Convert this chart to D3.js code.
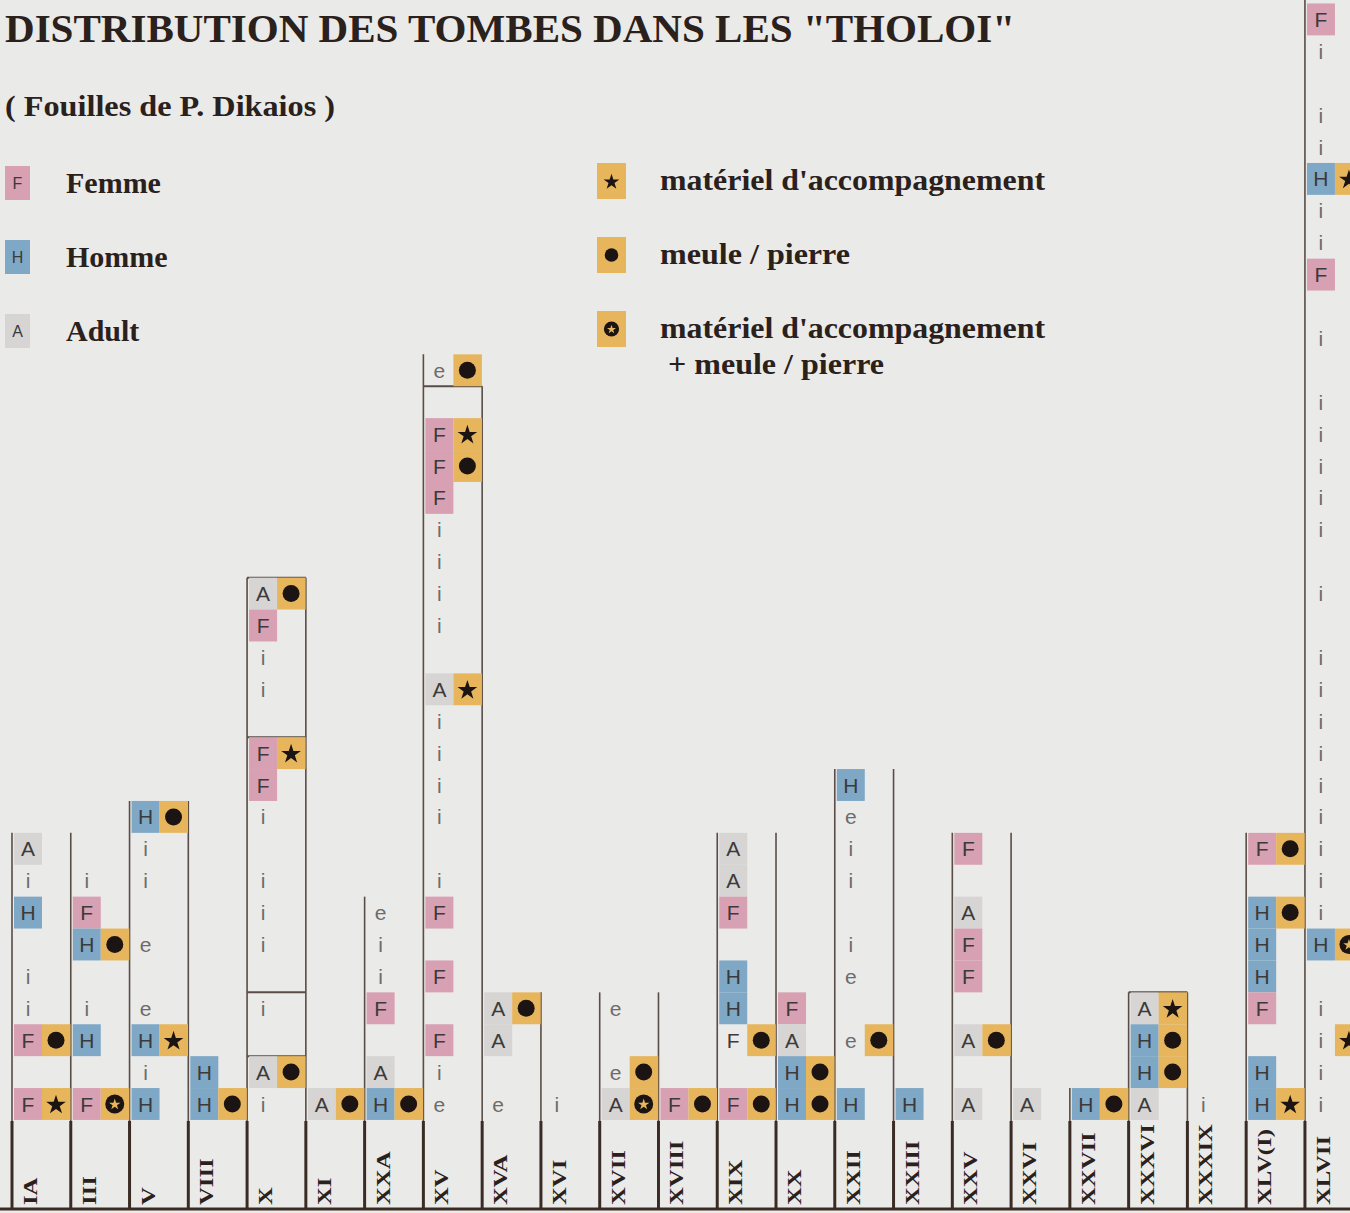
<!DOCTYPE html>
<html>
<head>
<meta charset="utf-8">
<script src="https://cdn.jsdelivr.net/npm/d3@7"></script>
<style>
  body { margin: 0; background: #eaeae8; }
  svg { display: block; }
</style>
</head>
<body>
<div class="chart"></div>
<script>
/* DATA */
var tholoi = ["IA", "III", "V", "VIII", "X", "XI", "XXA", "XV", "XVA", "XVI", "XVII", "XVIII",
    "XIX", "XX", "XXII", "XXIII", "XXV", "XXVI", "XXVII", "XXXVI", "XXXIX", "XLV(I)", "XLVII"];

// height of each tholos line, in rows
var lineTops = [8.5, 8.5, 9.5, 9.5, 16.5, 16.5, 6.5, 23.5, 22.5, 3.5, 3.5, 3.5,
    8.5, 8.5, 10.5, 10.5, 8.5, 8.5, 0.5, 3.5, 3.5, 8.5, 34.8];

// burials per tholos: [row, code]  letter F/H/A (f = F without colour), i, e ; goods * star, . stone, o both
var burials = [
    [[8, "A"], [7, "i"], [6, "H"], [4, "i"], [3, "i"], [2, "F."], [0, "F*"]],
    [[7, "i"], [6, "F"], [5, "H."], [3, "i"], [2, "H"], [0, "Fo"]],
    [[9, "H."], [8, "i"], [7, "i"], [5, "e"], [3, "e"], [2, "H*"], [1, "i"], [0, "H"]],
    [[1, "H"], [0, "H."]],
    [[16, "A."], [15, "F"], [14, "i"], [13, "i"], [11, "F*"], [10, "F"], [9, "i"], [7, "i"], [6, "i"], [5, "i"], [3, "i"], [1, "A."], [0, "i"]],
    [[0, "A."]],
    [[6, "e"], [5, "i"], [4, "i"], [3, "F"], [1, "A"], [0, "H."]],
    [[23, "e."], [21, "F*"], [20, "F."], [19, "F"], [18, "i"], [17, "i"], [16, "i"], [15, "i"], [13, "A*"], [12, "i"], [11, "i"], [10, "i"], [9, "i"], [7, "i"], [6, "F"], [4, "F"], [2, "F"], [1, "i"], [0, "e"]],
    [[3, "A."], [2, "A"], [0, "e"]],
    [[0, "i"]],
    [[3, "e"], [1, "e."], [0, "Ao"]],
    [[0, "F."]],
    [[8, "A"], [7, "A"], [6, "F"], [4, "H"], [3, "H"], [2, "f."], [0, "F."]],
    [[3, "F"], [2, "A"], [1, "H."], [0, "H."]],
    [[10, "H"], [9, "e"], [8, "i"], [7, "i"], [5, "i"], [4, "e"], [2, "e."], [0, "H"]],
    [[0, "H"]],
    [[8, "F"], [6, "A"], [5, "F"], [4, "F"], [2, "A."], [0, "A"]],
    [[0, "A"]],
    [[0, "H."]],
    [[3, "A*"], [2, "H."], [1, "H."], [0, "A"]],
    [[0, "i"]],
    [[8, "F."], [6, "H."], [5, "H"], [4, "H"], [3, "F"], [1, "H"], [0, "H*"]],
    [[34, "F"], [33, "i"], [31, "i"], [30, "i"], [29, "H*"], [28, "i"], [27, "i"], [26, "F"], [24, "i"],
     [22, "i"], [21, "i"], [20, "i"], [19, "i"], [18, "i"], [16, "i"], [14, "i"], [13, "i"], [12, "i"],
     [11, "i"], [10, "i"], [9, "i"], [8, "i"], [7, "i"], [6, "i"], [5, "Ho"], [3, "i"], [2, "i*"], [1, "i"], [0, "i"]]
];

// horizontal partitions inside some tholoi: [index, [row levels]]
var dividers = [[4, [16.5, 11.5, 3.5, 1.5]], [7, [22.5]], [19, [3.5]]];

var legendPeople = [["F", "Femme"], ["H", "Homme"], ["A", "Adult"]];
var legendGoods = [["*", "matériel d'accompagnement"], [".", "meule / pierre"], ["o", "matériel d'accompagnement"]];

/* SET UP */
var width = 1350, height = 1213;
var fills = { F: "#d8a0b3", H: "#7ea8c6", A: "#d6d5d3", goods: "#e7b65c" };
var ink = "#1c1412";

var xScale = d3.scaleBand().domain(tholoi).range([12, 12 + 23 * 58.77]).paddingInner(0);
var yScale = d3.scaleLinear().domain([0, 34]).range([1104, 1104 - 34 * 31.9]);
var rowH = 31.9;

var svg = d3.select(".chart").append("svg")
    .attr("width", width)
    .attr("height", height);

svg.append("rect").attr("width", width).attr("height", height).attr("fill", "#eaeae8");

/* TITLES */
svg.append("text")
    .attr("x", 5).attr("y", 42)
    .attr("font-family", "Liberation Serif, Times New Roman, serif")
    .attr("font-weight", "bold").attr("font-size", 40)
    .attr("textLength", 1010).attr("lengthAdjust", "spacingAndGlyphs")
    .attr("fill", "#2a201c")
    .text("DISTRIBUTION DES TOMBES DANS LES \"THOLOI\"");

svg.append("text")
    .attr("x", 5).attr("y", 116)
    .attr("font-family", "Liberation Serif, Times New Roman, serif")
    .attr("font-weight", "bold").attr("font-size", 29)
    .attr("textLength", 330).attr("lengthAdjust", "spacingAndGlyphs")
    .attr("fill", "#2a201c")
    .text("( Fouilles de P. Dikaios )");

/* LEGEND */
var serif = "Liberation Serif, Times New Roman, serif";
var sans = "Liberation Sans, Arial, sans-serif";

legendPeople.forEach(function(d, i) {
    var cy = 183 + i * 74;
    svg.append("rect").attr("x", 5).attr("y", cy - 17).attr("width", 25).attr("height", 34)
        .attr("fill", fills[d[0]]);
    svg.append("text").attr("x", 17.5).attr("y", cy + 6).attr("text-anchor", "middle")
        .attr("font-family", sans).attr("font-size", 16).attr("fill", "#3a3a3a").text(d[0]);
    svg.append("text").attr("x", 66).attr("y", cy + 10)
        .attr("font-family", serif).attr("font-weight", "bold").attr("font-size", 30)
        .attr("fill", "#2a201c").text(d[1]);
});

legendGoods.forEach(function(d, i) {
    var cy = 181 + i * 74;
    svg.append("rect").attr("x", 597).attr("y", cy - 18).attr("width", 29).attr("height", 36)
        .attr("fill", fills.goods);
    drawGoods(svg, 611.5, cy, d[0], 0.8);
    svg.append("text").attr("x", 660).attr("y", cy + 9)
        .attr("font-family", serif).attr("font-weight", "bold").attr("font-size", 29)
        .attr("textLength", d[0] === "." ? 190 : 385).attr("lengthAdjust", "spacingAndGlyphs")
        .attr("fill", "#2a201c").text(d[1]);
});
svg.append("text").attr("x", 668).attr("y", 374)
    .attr("font-family", serif).attr("font-weight", "bold").attr("font-size", 29)
    .attr("textLength", 216).attr("lengthAdjust", "spacingAndGlyphs")
    .attr("fill", "#2a201c").text("+ meule / pierre");

function drawGoods(g, cx, cy, kind, k) {
    if (kind === "*") {
        g.append("path").attr("d", d3.symbol().type(d3.symbolStar).size(120 * k * k)())
            .attr("transform", "translate(" + cx + "," + (cy + 1) + ")").attr("fill", ink);
    } else if (kind === ".") {
        g.append("circle").attr("cx", cx).attr("cy", cy).attr("r", 8.5 * k).attr("fill", ink);
    } else if (kind === "o") {
        g.append("circle").attr("cx", cx).attr("cy", cy).attr("r", 9.5 * k).attr("fill", ink);
        g.append("path").attr("d", d3.symbol().type(d3.symbolStar).size(40 * k * k)())
            .attr("transform", "translate(" + cx + "," + (cy + 0.5) + ")").attr("fill", fills.goods);
    }
}

/* COLUMN LINES */
var lines = svg.append("g");
tholoi.forEach(function(name, i) {
    var x = xScale(name);
    lines.append("line")
        .attr("x1", x).attr("x2", x)
        .attr("y1", yScale(lineTops[i])).attr("y2", 1122)
        .attr("stroke", "#5a4c46").attr("stroke-width", 1.6);
    lines.append("line")
        .attr("x1", x).attr("x2", x)
        .attr("y1", 1121).attr("y2", 1210)
        .attr("stroke", "#3a2c25").attr("stroke-width", 3);
});

dividers.forEach(function(d) {
    var x = xScale(tholoi[d[0]]);
    d[1].forEach(function(r) {
        lines.append("line")
            .attr("x1", x).attr("x2", x + xScale.bandwidth())
            .attr("y1", yScale(r)).attr("y2", yScale(r))
            .attr("stroke", "#5a4c46").attr("stroke-width", 2);
    });
});

/* BURIALS */
var cells = svg.append("g");
burials.forEach(function(list, i) {
    var x = xScale(tholoi[i]);
    list.forEach(function(b) {
        var cy = yScale(b[0]);
        var letter = b[1].charAt(0);
        var goods = b[1].charAt(1);
        if (fills[letter]) {
            cells.append("rect")
                .attr("x", x + 2).attr("y", cy - rowH / 2)
                .attr("width", 28).attr("height", rowH)
                .attr("fill", fills[letter]);
        }
        if (goods) {
            cells.append("rect")
                .attr("x", x + 30).attr("y", cy - rowH / 2)
                .attr("width", 28.5).attr("height", rowH)
                .attr("fill", fills.goods);
            drawGoods(cells, x + 44, cy, goods, 1);
        }
        var plain = (letter === "i" || letter === "e");
        cells.append("text")
            .attr("x", x + 16).attr("y", cy + 7.5)
            .attr("text-anchor", "middle")
            .attr("font-family", sans)
            .attr("font-size", 21)
            .attr("fill", plain ? "#6e6c6a" : "#3c3a3a")
            .text(letter === "f" ? "F" : letter);
    });
});

/* LABELS */
tholoi.forEach(function(name) {
    var x = xScale(name) + 25;
    svg.append("text")
        .attr("transform", "translate(" + x + ",1205) rotate(-90) scale(1.3,1)")
        .attr("font-family", serif).attr("font-weight", "bold").attr("font-size", 19)
        .attr("fill", "#2a201c")
        .text(name);
});

svg.append("line")
    .attr("x1", 0).attr("x2", width).attr("y1", 1209).attr("y2", 1209)
    .attr("stroke", "#3a2c25").attr("stroke-width", 3);
</script>
</body>
</html>
